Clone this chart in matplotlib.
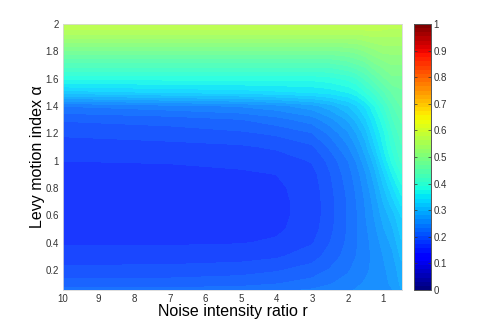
import numpy as np
import matplotlib

matplotlib.use("Agg")
import matplotlib.pyplot as plt
from matplotlib.colors import ListedColormap, Normalize
from matplotlib.cm import ScalarMappable

plt.rcParams["font.family"] = ["Liberation Sans", "DejaVu Sans"]

# grid (r columns, alpha rows, top row first)
ratio_r = [10, 7, 5, 4, 3, 2.5, 2, 1.75, 1.5, 1.25, 1.0, 0.75, 0.5]
alpha_idx = [2.0, 1.9, 1.8, 1.7, 1.6, 1.5, 1.4, 1.3, 1.2, 1.1, 1.0,
             0.9, 0.8, 0.7, 0.6, 0.5, 0.4, 0.3, 0.2, 0.1, 0.05]

row_200 = [0.58, 0.58, 0.58, 0.58, 0.58, 0.58, 0.58, 0.58, 0.58, 0.58, 0.575, 0.57, 0.57]
row_190 = [0.535, 0.535, 0.535, 0.535, 0.535, 0.535, 0.535, 0.535, 0.54, 0.545, 0.545, 0.545, 0.545]
row_180 = [0.48, 0.48, 0.48, 0.48, 0.48, 0.48, 0.485, 0.49, 0.5, 0.51, 0.52, 0.52, 0.52]
row_170 = [0.43, 0.43, 0.43, 0.43, 0.43, 0.43, 0.44, 0.45, 0.46, 0.48, 0.49, 0.5, 0.5]
row_160 = [0.38, 0.38, 0.38, 0.38, 0.38, 0.385, 0.395, 0.405, 0.425, 0.445, 0.465, 0.48, 0.48]
row_150 = [0.32, 0.33, 0.335, 0.34, 0.345, 0.35, 0.36, 0.37, 0.39, 0.41, 0.435, 0.455, 0.465]
row_140 = [0.235, 0.245, 0.252, 0.26, 0.275, 0.29, 0.312, 0.327, 0.347, 0.375, 0.405, 0.435, 0.455]
row_130 = [0.205, 0.21, 0.218, 0.228, 0.242, 0.26, 0.283, 0.302, 0.326, 0.355, 0.385, 0.42, 0.44]
row_120 = [0.19, 0.195, 0.2, 0.206, 0.218, 0.238, 0.263, 0.282, 0.306, 0.34, 0.37, 0.405, 0.43]
row_110 = [0.18, 0.182, 0.185, 0.19, 0.2, 0.222, 0.248, 0.267, 0.291, 0.325, 0.36, 0.395, 0.42]
row_100 = [0.172, 0.173, 0.175, 0.179, 0.189, 0.208, 0.234, 0.252, 0.277, 0.305, 0.345, 0.38, 0.41]
row_090 = [0.168, 0.168, 0.17, 0.172, 0.182, 0.202, 0.227, 0.243, 0.264, 0.29, 0.325, 0.36, 0.39]
row_080 = [0.166, 0.166, 0.167, 0.169, 0.179, 0.199, 0.223, 0.238, 0.257, 0.28, 0.31, 0.34, 0.37]
row_070 = [0.165, 0.165, 0.166, 0.168, 0.178, 0.197, 0.22, 0.235, 0.252, 0.272, 0.298, 0.322, 0.35]
row_060 = [0.165, 0.165, 0.166, 0.168, 0.178, 0.197, 0.22, 0.233, 0.25, 0.267, 0.288, 0.305, 0.33]
row_050 = [0.166, 0.166, 0.167, 0.169, 0.18, 0.199, 0.22, 0.233, 0.247, 0.262, 0.28, 0.295, 0.32]
row_040 = [0.17, 0.17, 0.171, 0.174, 0.186, 0.203, 0.222, 0.233, 0.245, 0.257, 0.272, 0.285, 0.31]
row_030 = [0.178, 0.179, 0.181, 0.185, 0.196, 0.21, 0.225, 0.235, 0.245, 0.254, 0.266, 0.278, 0.3]
row_020 = [0.192, 0.193, 0.196, 0.201, 0.21, 0.22, 0.232, 0.24, 0.247, 0.254, 0.263, 0.272, 0.29]
row_010 = [0.21, 0.21, 0.213, 0.218, 0.225, 0.233, 0.241, 0.247, 0.252, 0.257, 0.262, 0.268, 0.285]
row_005 = [0.225, 0.225, 0.227, 0.231, 0.237, 0.242, 0.247, 0.252, 0.256, 0.259, 0.262, 0.265, 0.28]

values = np.array([row_200, row_190, row_180, row_170, row_160, row_150, row_140,
                   row_130, row_120, row_110, row_100, row_090, row_080, row_070,
                   row_060, row_050, row_040, row_030, row_020, row_010, row_005])

x_ticks = [10, 9, 8, 7, 6, 5, 4, 3, 2, 1]
y_ticks = [0.2, 0.4, 0.6, 0.8, 1.0, 1.2, 1.4, 1.6, 1.8, 2.0]
cbar_ticks = [0, 0.1, 0.2, 0.3, 0.4, 0.5, 0.6, 0.7, 0.8, 0.9, 1.0]

jet64 = plt.get_cmap("jet", 64)
base = jet64(np.arange(64))
washed = base.copy()
washed[:, :3] = base[:, :3] * 0.9 + 0.1
mesh_cmap = ListedColormap(washed)
norm = Normalize(0, 1)

fig = plt.figure(figsize=(4.91, 3.27), dpi=100)
ax = fig.add_axes([0.1283, 0.1131, 0.6904, 0.8135])
ax.contourf(ratio_r, alpha_idx, values, levels=np.linspace(0, 1, 65),
            cmap=mesh_cmap, norm=norm, antialiased=False)
ax.set_xlim(10, 0.48)
ax.set_ylim(0.053, 2.0)

ax.set_xticks(x_ticks)
ax.set_xticklabels([f"{t:g}" for t in x_ticks])
ax.set_yticks(y_ticks)
ax.set_yticklabels([f"{t:g}" for t in y_ticks])
ax.tick_params(labelsize=7, colors="#333333", length=0, pad=3)
for side in ax.spines.values():
    side.set_color("#d8d8d8")
    side.set_linewidth(0.6)

ax.set_xlabel("Noise intensity ratio r", fontsize=11.5, labelpad=0)
ax.set_ylabel("Levy motion index \u03b1", fontsize=11.5, labelpad=0)

cax = fig.add_axes([0.8432, 0.1131, 0.0346, 0.8135])
cbar = fig.colorbar(ScalarMappable(norm=norm, cmap=jet64), cax=cax, ticks=cbar_ticks)
cbar.ax.set_yticklabels([f"{t:g}" for t in cbar_ticks])
cbar.ax.tick_params(labelsize=7, colors="#333333", direction="in",
                    left=True, right=True, length=2, width=0.5, pad=2)
cbar.outline.set_edgecolor("#555555")
cbar.outline.set_linewidth(0.7)

fig.savefig("out.png", dpi=100)
